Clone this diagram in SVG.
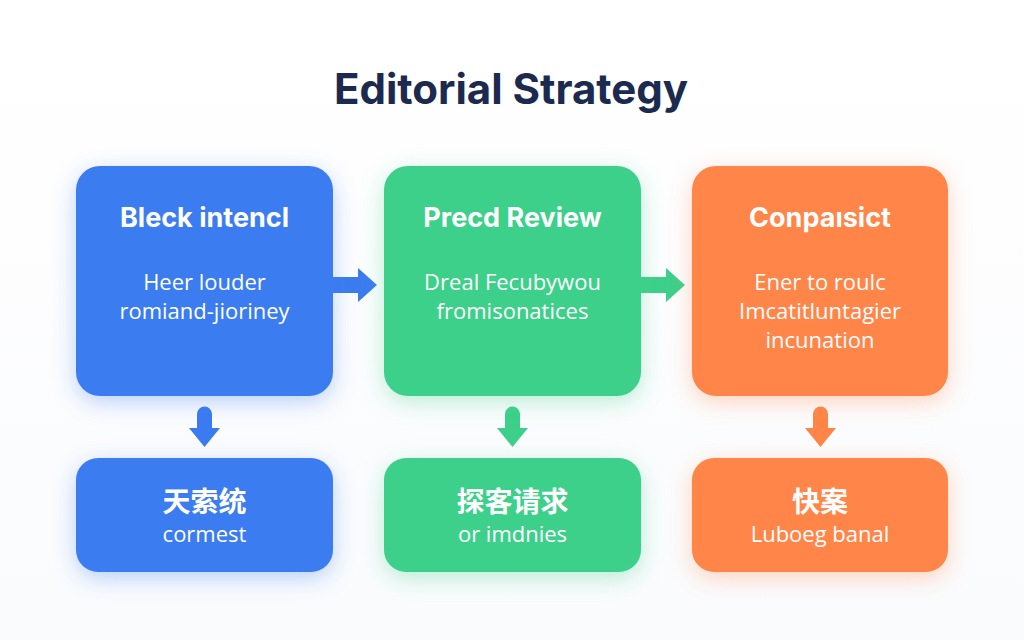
<svg xmlns="http://www.w3.org/2000/svg" width="1024" height="640" viewBox="0 0 1024 640">
  <defs>
    <filter id="glowB" x="-30%" y="-30%" width="160%" height="160%">
      <feDropShadow dx="0" dy="6" stdDeviation="11" flood-color="#3B7BF0" flood-opacity="0.35"/>
    </filter>
    <filter id="glowG" x="-30%" y="-30%" width="160%" height="160%">
      <feDropShadow dx="0" dy="6" stdDeviation="11" flood-color="#3DD08A" flood-opacity="0.35"/>
    </filter>
    <filter id="glowO" x="-30%" y="-30%" width="160%" height="160%">
      <feDropShadow dx="0" dy="6" stdDeviation="11" flood-color="#FF8548" flood-opacity="0.35"/>
    </filter>
    <linearGradient id="bg" x1="0" y1="0" x2="0" y2="1">
      <stop offset="0" stop-color="#FFFFFF"/>
      <stop offset="1" stop-color="#FAFBFD"/>
    </linearGradient>
  </defs>
  <style>
    .title { font-family: Inter, "Open Sans", "Liberation Sans", sans-serif; font-weight: 700; font-size: 42px; fill: #1B2A4E; text-anchor: middle; }
    .head { font-family: Inter, "Open Sans", "Liberation Sans", sans-serif; font-weight: 700; font-size: 27px; fill: #FFFFFF; text-anchor: middle; }
    .body { font-family: "Open Sans", Inter, "Liberation Sans", sans-serif; font-size: 22px; fill: #FFFFFF; text-anchor: middle; }
    .cjk { font-family: "Noto Sans CJK SC", "Noto Sans", sans-serif; font-weight: 700; font-size: 28px; fill: #FFFFFF; text-anchor: middle; }
    .blue { fill: #3B7BF0; }
    .green { fill: #3DD08A; }
    .orange { fill: #FF8548; }
  </style>
  <rect width="1024" height="640" fill="url(#bg)"/>
  <text class="title" x="511" y="104">Editorial Strategy</text>

  <g id="connectors">
    <path class="blue" d="M333,277 H358 V268 L377,285 L358,302 V293 H333 Z"/>
    <path class="green" d="M641,277 H666 V268 L685,285 L666,302 V293 H641 Z"/>
    <path class="blue" d="M197,414 a7.5,7.5 0 0 1 15,0 V428 H220 L204.5,447 L189,428 H197 Z"/>
    <path class="green" d="M505,414 a7.5,7.5 0 0 1 15,0 V428 H528 L512.5,447 L497,428 H505 Z"/>
    <path class="orange" d="M813,414 a7.5,7.5 0 0 1 15,0 V428 H836 L820.5,447 L805,428 H813 Z"/>
  </g>

  <g id="node-blue-top">
    <rect class="blue" x="76" y="166" width="257" height="230" rx="24" filter="url(#glowB)"/>
    <text class="head" x="204.5" y="227">Bleck intencl</text>
    <text class="body" x="204.5" y="290">Heer louder</text>
    <text class="body" x="204.5" y="319">romiand-jioriney</text>
  </g>
  <g id="node-green-top">
    <rect class="green" x="384" y="166" width="257" height="230" rx="24" filter="url(#glowG)"/>
    <text class="head" x="512.5" y="227">Precd Review</text>
    <text class="body" x="512.5" y="290">Dreal Fecubywou</text>
    <text class="body" x="512.5" y="319">fromisonatices</text>
  </g>
  <g id="node-orange-top">
    <rect class="orange" x="692" y="166" width="256" height="230" rx="24" filter="url(#glowO)"/>
    <text class="head" x="820" y="227">Conpaısict</text>
    <text class="body" x="820" y="290">Ener to roulc</text>
    <text class="body" x="820" y="319">Imcatitluntagier</text>
    <text class="body" x="820" y="348">incunation</text>
  </g>

  <g id="node-blue-bottom">
    <rect class="blue" x="76" y="458" width="257" height="114" rx="22" filter="url(#glowB)"/>
    <text class="cjk" x="204.5" y="512">天索统</text>
    <text class="body" x="204.5" y="542">cormest</text>
  </g>
  <g id="node-green-bottom">
    <rect class="green" x="384" y="458" width="257" height="114" rx="22" filter="url(#glowG)"/>
    <text class="cjk" x="512.5" y="512">探客请求</text>
    <text class="body" x="512.5" y="542">or imdnies</text>
  </g>
  <g id="node-orange-bottom">
    <rect class="orange" x="692" y="458" width="256" height="114" rx="22" filter="url(#glowO)"/>
    <text class="cjk" x="820" y="512">快案</text>
    <text class="body" x="820" y="542">Luboeg banal</text>
  </g>
</svg>
